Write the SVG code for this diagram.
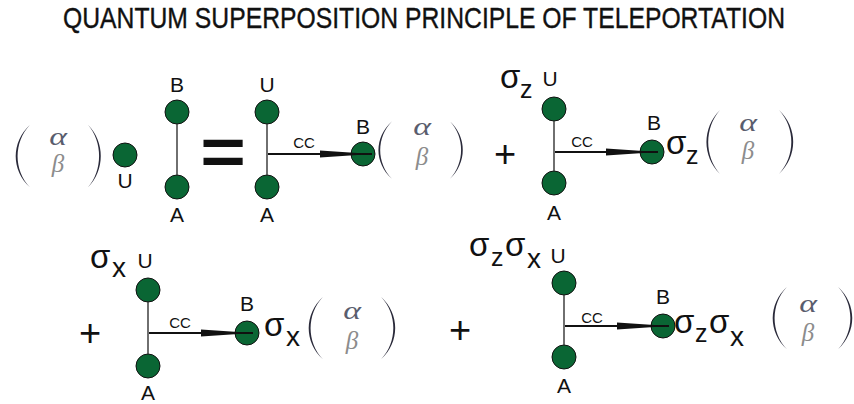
<svg xmlns="http://www.w3.org/2000/svg" width="854" height="404" viewBox="0 0 854 404">
<style>
.t{font-family:"Liberation Sans",Arial,sans-serif;fill:#111}
.lbl{font-family:"Liberation Sans",Arial,sans-serif;font-size:21px;fill:#111;text-anchor:middle}
.cc{font-family:"Liberation Sans",Arial,sans-serif;font-size:15px;fill:#111;text-anchor:middle}
.sg{font-family:"Liberation Sans",Arial,sans-serif;font-size:33px;fill:#111}
.sz{font-family:"Liberation Sans",Arial,sans-serif;font-size:25px;fill:#111}
.sx{font-family:"Liberation Sans",Arial,sans-serif;font-size:28px;fill:#111}
.a{font-family:"Liberation Serif",serif;font-style:italic;font-size:26px;fill:#5a5d6e;text-anchor:middle}
.b{font-family:"Liberation Serif",serif;font-style:italic;font-size:25px;fill:#8c8c8c;text-anchor:middle}
.plus{font-family:"Liberation Sans",Arial,sans-serif;font-size:38px;fill:#111;text-anchor:middle}
.node{fill:#0a6634;stroke:#111;stroke-width:1}
.stem{stroke:#333;stroke-width:1.4;fill:none}
.arr{stroke:#111;stroke-width:2;fill:none;marker-end:url(#head)}
.par{fill:#2a2a3a}
</style>
<defs>
<marker id="head" markerUnits="userSpaceOnUse" markerWidth="52" markerHeight="8" viewBox="0 0 52 8" refX="52" refY="4" orient="auto">
<path d="M0,0.4 L52,4 L0,7.6 Z" fill="#111"/>
</marker>
<path id="lp" d="M0,-32 C-19,-14 -19,14 0,32 C-16.5,14 -16.5,-14 0,-32 Z"/>
</defs>

<text class="t" x="63" y="0" font-size="24" textLength="722" lengthAdjust="spacingAndGlyphs" stroke="#111" stroke-width="0.3" transform="translate(0,28) scale(1,1.2)">QUANTUM SUPERPOSITION PRINCIPLE OF TELEPORTATION</text>

<!-- Panel 1 -->
<g id="state1">
<use href="#lp" class="par" transform="translate(30,156) scale(1,0.98)"/>
<use href="#lp" class="par" transform="translate(88,156) scale(-0.9,0.98)"/>
<text class="a" x="0" y="0" transform="translate(58,145) scale(1.3,1)">α</text>
<text class="b" x="58" y="172">β</text>
</g>
<g id="p1-U"><circle class="node" cx="125" cy="155" r="12"/><text class="lbl" x="125" y="188">U</text></g>
<g id="p1-B"><circle class="node" cx="177" cy="112" r="12"/><text class="lbl" x="177" y="92">B</text></g>
<g id="p1-A"><circle class="node" cx="177" cy="187" r="12"/><text class="lbl" x="177" y="222">A</text></g>
<text class="t" x="0" y="0" font-size="64" font-weight="bold" text-anchor="middle" transform="translate(223,175) scale(1.22,1.05)">=</text>

<!-- Panel 2 -->
<g id="p2-U"><circle class="node" cx="267" cy="112" r="12"/><text class="lbl" x="267" y="92">U</text></g>
<g id="p2-A"><circle class="node" cx="267" cy="187" r="12"/><text class="lbl" x="267" y="222">A</text></g>
<g id="p2-B"><circle class="node" cx="363" cy="154" r="12"/><text class="lbl" x="363" y="134">B</text></g>
<g id="state2">
<use href="#lp" class="par" transform="translate(392,150) scale(0.95,0.9)"/>
<use href="#lp" class="par" transform="translate(450,150) scale(-0.9,0.9)"/>
<text class="a" x="0" y="0" transform="translate(422,135) scale(1.3,1)">α</text>
<text class="b" x="422" y="165">β</text>
</g>
<text class="plus" x="505" y="167">+</text>

<!-- Panel 3 -->
<g id="p3-U"><circle class="node" cx="554" cy="109" r="12"/><text class="lbl" x="550" y="86">U</text>
<text><tspan class="sg" x="500" y="88">σ</tspan><tspan class="sz" x="520" y="98">z</tspan></text></g>
<g id="p3-A"><circle class="node" cx="554" cy="183" r="12"/><text class="lbl" x="554" y="220">A</text></g>
<g id="p3-B"><circle class="node" cx="652" cy="152" r="12"/><text class="lbl" x="654" y="130">B</text></g>
<g id="state3">
<text><tspan class="sg" x="666" y="154">σ</tspan><tspan class="sz" x="686" y="164">z</tspan></text>
<use href="#lp" class="par" transform="translate(720,142) scale(0.95,1)"/>
<use href="#lp" class="par" transform="translate(779,142) scale(-1,1)"/>
<text class="a" x="0" y="0" transform="translate(748,131) scale(1.3,1)">α</text>
<text class="b" x="748" y="159">β</text>
</g>

<!-- Panel 4 -->
<text class="plus" x="90" y="346">+</text>
<g id="p4-U"><circle class="node" cx="148" cy="290" r="12"/><text class="lbl" x="145" y="268">U</text>
<text><tspan class="sg" x="90" y="268">σ</tspan><tspan class="sx" x="112" y="277">x</tspan></text></g>
<g id="p4-A"><circle class="node" cx="148" cy="366" r="12"/><text class="lbl" x="148" y="400">A</text></g>
<g id="p4-B"><circle class="node" cx="247" cy="333" r="12"/><text class="lbl" x="247" y="311">B</text></g>
<g id="state4">
<text><tspan class="sg" x="264" y="336">σ</tspan><tspan class="sx" x="286" y="346">x</tspan></text>
<use href="#lp" class="par" transform="translate(323,328) scale(1,0.98)"/>
<use href="#lp" class="par" transform="translate(381,328) scale(-1,0.98)"/>
<text class="a" x="0" y="0" transform="translate(352,319) scale(1.3,1)">α</text>
<text class="b" x="352" y="349">β</text>
</g>

<!-- Panel 5 -->
<text class="plus" x="460" y="343">+</text>
<g id="p5-U"><circle class="node" cx="564" cy="283" r="12"/><text class="lbl" x="558" y="263">U</text>
<text><tspan class="sg" x="469" y="256">σ</tspan><tspan class="sz" x="491" y="266">z</tspan><tspan class="sg" x="505" y="256">σ</tspan><tspan class="sx" x="527" y="268">x</tspan></text></g>
<g id="p5-A"><circle class="node" cx="564" cy="357" r="12"/><text class="lbl" x="564" y="393">A</text></g>
<g id="p5-B"><circle class="node" cx="663" cy="326" r="12"/><text class="lbl" x="663" y="304">B</text></g>
<g id="state5">
<text><tspan class="sg" x="674" y="333">σ</tspan><tspan class="sz" x="695" y="342">z</tspan><tspan class="sg" x="709" y="333">σ</tspan><tspan class="sx" x="730" y="346">x</tspan></text>
<use href="#lp" class="par" transform="translate(787,318) scale(1,0.98)"/>
<use href="#lp" class="par" transform="translate(838,318) scale(-1,0.98)"/>
<text class="a" x="0" y="0" transform="translate(808,312) scale(1.3,1)">α</text>
<text class="b" x="808" y="341">β</text>
</g>

<!-- Connectors -->
<g id="connectors">
<line class="stem" x1="177" y1="124" x2="177" y2="175"/>
<line class="stem" x1="267" y1="124" x2="267" y2="175"/>
<line class="stem" x1="554" y1="121" x2="554" y2="171"/>
<line class="stem" x1="148" y1="302" x2="148" y2="354"/>
<line class="stem" x1="564" y1="295" x2="564" y2="345"/>
<line class="arr" x1="268" y1="154" x2="372" y2="154"/>
<line class="arr" x1="555" y1="152" x2="658" y2="152"/>
<line class="arr" x1="149" y1="333" x2="253" y2="333"/>
<line class="arr" x1="565" y1="326" x2="669" y2="326"/>
<text class="cc" x="304" y="148">CC</text>
<text class="cc" x="582" y="147">CC</text>
<text class="cc" x="180" y="328">CC</text>
<text class="cc" x="592" y="323">CC</text>
</g>
</svg>
